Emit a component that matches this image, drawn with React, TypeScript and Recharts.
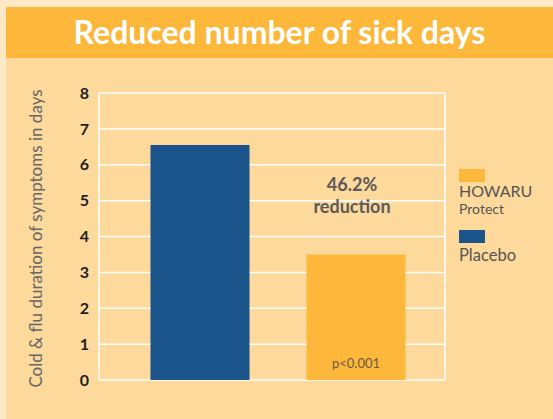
import React from 'react';
import { BarChart, Bar, XAxis, YAxis, CartesianGrid, Legend, LabelList } from 'recharts';

const groups = ['Placebo', 'HOWARU Protect'];
const placeboDays = [6.55, null];
const howaruDays = [null, 3.5];
const yTicks = [0, 1, 2, 3, 4, 5, 6, 7, 8];
const reductionText = ['46.2%', 'reduction'];
const pValueText = 'p<0.001';
const titleText = 'Reduced number of sick days';
const yAxisTitle = 'Cold & flu duration of symptoms in days';

const data = groups.map((group, i) => ({
  group,
  placebo: placeboDays[i],
  howaru: howaruDays[i],
}));

const FONT = 'Lato, "Open Sans", sans-serif';
const ORANGE = '#FDB73B';
const BLUE = '#1A548A';

const AxisTitle = (props: any) => {
  const { x, y, height } = props.viewBox;
  const cx = x + 35;
  const cy = y + height / 2 + 2;
  return (
    <text
      x={cx}
      y={cy}
      transform={`rotate(-90, ${cx}, ${cy})`}
      textAnchor="middle"
      dominantBaseline="central"
      fill="#666"
      fontSize={17}
      fontFamily={FONT}
    >
      {yAxisTitle}
    </text>
  );
};

const HowaruLabels = (props: any) => {
  const { x, y, width, height, value } = props;
  if (value == null) return null;
  const cx = x + width / 2 - 4;
  return (
    <g fontFamily={FONT}>
      <text x={cx} y={y - 63} textAnchor="middle" fill="#5a5a5a" fontSize={18} fontWeight="bold">
        {reductionText[0]}
      </text>
      <text x={cx} y={y - 41} textAnchor="middle" fill="#5a5a5a" fontSize={18} fontWeight="bold">
        {reductionText[1]}
      </text>
      <text x={x + width / 2} y={y + height - 12} textAnchor="middle" fill="#6b5a3e" fontSize={13}>
        {pValueText}
      </text>
    </g>
  );
};

const LegendBox = (props: any) => {
  const { payload } = props;
  return (
    <div style={{ fontFamily: FONT, color: '#555' }}>
      {payload.map((entry: any, i: number) => {
        const words = String(entry.value).split(' ');
        return (
          <div key={entry.value} style={{ marginTop: i === 0 ? 0 : 11.5 }}>
            <div style={{ width: 26, height: 13, background: entry.color }} />
            <div style={{ marginTop: i === 0 ? 0 : 2.6, fontSize: i === 0 ? 16 : 16.5, lineHeight: '18px' }}>
              {words[0]}
            </div>
            {words.length > 1 && (
              <div style={{ fontSize: 14, lineHeight: '18.5px' }}>
                {words.slice(1).join(' ')}
              </div>
            )}
          </div>
        );
      })}
    </div>
  );
};

export default function App() {
  return (
    <div style={{ position: 'absolute', left: 0, top: 0, width: 553, height: 419, background: '#FEE8C6' }}>
      <div style={{ position: 'absolute', left: 6, top: 7, right: 0, bottom: 0, background: '#FDD99B' }} />
      <div
        style={{
          position: 'absolute',
          left: 6,
          top: 7,
          width: 547,
          height: 51,
          background: ORANGE,
          color: '#fff',
          fontFamily: FONT,
          fontWeight: 'bold',
          fontSize: 32,
          lineHeight: '50px',
          textAlign: 'center',
        }}
      >
        {titleText}
      </div>
      <div style={{ position: 'absolute', left: 0, top: 0 }}>
        <BarChart
          width={553}
          height={419}
          data={data}
          margin={{ top: 93, right: 108, left: 0, bottom: 39 }}
        >
          <CartesianGrid
            stroke="#ffffff"
            strokeWidth={1.5}
            verticalCoordinatesGenerator={({ offset }: any) => [offset.left, offset.left + offset.width]}
          />
          <XAxis dataKey="group" hide padding={{ left: 22.5, right: 11.5 }} />
          <YAxis
            width={99}
            domain={[0, 8]}
            ticks={yTicks}
            interval={0}
            axisLine={false}
            tickLine={false}
            tickMargin={4}
            tick={{ fill: '#1e1e1e', fontSize: 16, fontWeight: 'bold', fontFamily: FONT }}
            label={<AxisTitle />}
          />
          <Legend
            layout="vertical"
            align="center"
            verticalAlign="middle"
            content={<LegendBox />}
            wrapperStyle={{ left: 459, top: 169, width: 94 }}
          />
          <Bar dataKey="howaru" name="HOWARU Protect" stackId="a" fill={ORANGE} barSize={99} isAnimationActive={false}>
            <LabelList dataKey="howaru" content={<HowaruLabels />} />
          </Bar>
          <Bar dataKey="placebo" name="Placebo" stackId="a" fill={BLUE} barSize={99} isAnimationActive={false} />
        </BarChart>
      </div>
    </div>
  );
}
